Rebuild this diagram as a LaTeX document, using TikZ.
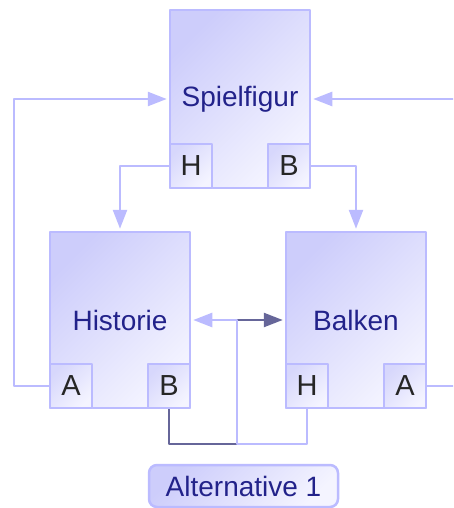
\documentclass[tikz,border=0pt]{standalone}
\usepackage{fontspec}
\setmainfont{Liberation Sans}
\usetikzlibrary{arrows.meta}
\definecolor{rand}{HTML}{BBBBFF}
\definecolor{dunkelblau}{HTML}{666699}
\definecolor{oben}{HTML}{CDCDFB}
\definecolor{unten}{HTML}{F4F4FF}
\definecolor{titel}{HTML}{22228A}
\tikzset{
  block/.style={draw=rand, line width=2.5pt, top color=oben, bottom color=unten, shading angle=45,
    inner sep=0pt, minimum width=140pt, minimum height=176pt, text=titel, font=\fontsize{28}{32}\selectfont},
  port/.style={draw=rand, line width=2.5pt, top color=oben!80!white, bottom color=unten, shading angle=45,
    inner sep=0pt, minimum width=42pt, minimum height=44pt, text=black!85, font=\fontsize{29}{32}\selectfont},
  link/.style={draw=rand, line width=2.5pt, -{Triangle[length=19pt,width=14pt]}, shorten >=2pt},
  linkdark/.style={link, draw=dunkelblau, -{Triangle[length=19pt,width=14pt,fill=dunkelblau]}},
}
\begin{document}
\begin{tikzpicture}[x=1pt, y=-1pt, line join=round]
\path[use as bounding box, clip] (0,0) rectangle (453,508);
\node[block, minimum height=178pt] (spielfigur) at (240,99) {Spielfigur};
\node[block] (historie) at (120,320) {Historie};
\node[block] (balken) at (356,320) {Balken};
\node[port, anchor=south west] (sH) at (spielfigur.south west) {H};
\node[port, anchor=south east] (sB) at (spielfigur.south east) {B};
\node[port, anchor=south west] (hA) at (historie.south west) {A};
\node[port, anchor=south east] (hB) at (historie.south east) {B};
\node[port, anchor=south west] (bH) at (balken.south west) {H};
\node[port, anchor=south east] (bA) at (balken.south east) {A};
\coordinate (links) at (14,386);
\coordinate (rechts) at (470,386);
\coordinate (knick) at (237,444);
\coordinate (mitte) at (237,320);
\draw[link] (sH.west) -| (historie.north);
\draw[link] (sB.east) -| (balken.north);
\draw[link] (hA.west) -- (links) |- (spielfigur.west);
\draw[link] (bA.east) -- (rechts) |- (spielfigur.east);
\draw[linkdark] (hB.south) |- (knick) -- (mitte) -- (balken.west);
\draw[link] (bH.south) |- (knick) -- (mitte) -- (historie.east);
\node[draw=rand, line width=2.5pt, rounded corners=8pt, top color=oben, bottom color=unten, shading angle=45,
  minimum width=189pt, minimum height=42pt, inner sep=0pt, text=titel, font=\fontsize{28}{32}\selectfont]
  (alt) at (243.5,486) {Alternative 1};
\end{tikzpicture}
\end{document}
